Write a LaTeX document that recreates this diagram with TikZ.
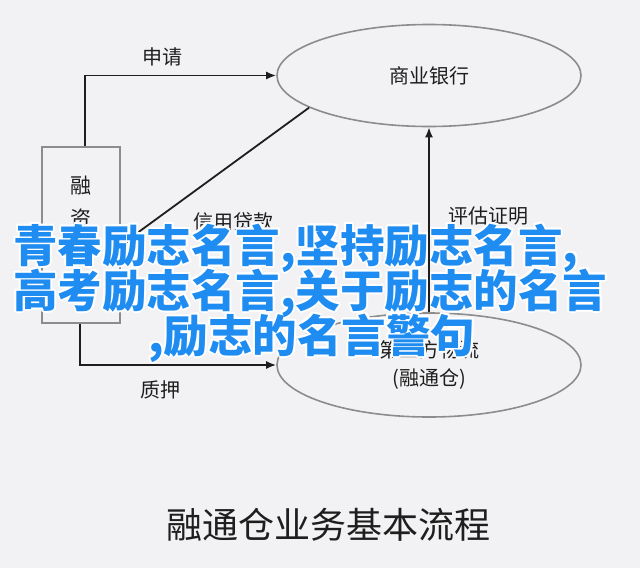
\documentclass[tikz,border=0pt]{standalone}
\usepackage{fontspec}
\usetikzlibrary{shapes.geometric,arrows.meta,calc}
\newfontfamily\cjk{Noto Sans CJK SC}
\definecolor{bg}{HTML}{F2F2F4}
\definecolor{wmblue}{RGB}{30,140,240}
\definecolor{edgegray}{HTML}{8C8C8C}
\definecolor{ink}{HTML}{1E1E1E}
\begin{document}
\begin{tikzpicture}[x=1pt,y=-1pt,
  lbl/.style={font=\cjk\fontsize{20}{24}\selectfont, text=ink, inner sep=0},
  shapeedge/.style={draw=edgegray, line width=1.6pt, inner sep=0, text=ink},
  conn/.style={draw=ink, line width=1.8pt, -{Latex[length=10pt,width=8pt]}},
  wm/.style={font=\cjk\bfseries\fontsize{44.5}{44.5}\selectfont, anchor=base west, inner sep=0}]
\fill[bg] (0,0) rectangle (640,568);
\useasboundingbox (0,0) rectangle (640,568);
% shapes
\node[shapeedge, rectangle, minimum width=78pt, minimum height=176pt] (box) at (81,235) {};
\node[lbl, align=center, font=\cjk\fontsize{21}{33}\selectfont] (boxtxt) at (box.center) {融\\资\\企\\业};
\node[shapeedge, ellipse, minimum width=304pt, minimum height=102pt, font=\cjk\fontsize{20}{24}\selectfont] (bank) at (429,75.5) {商业银行};
\node[shapeedge, ellipse, minimum width=304pt, minimum height=104pt, align=center, font=\cjk\fontsize{20}{28}\selectfont] (logi) at (429,365) {第三方物流\\(融通仓)};
% connectors
\draw[conn] ([xshift=4pt]box.north) |- (bank.west);
\draw[conn] ([xshift=-1pt]box.south) |- (logi.west);
\draw[conn] (bank.195) -- ([yshift=-10pt]box.east);
% labels
\node[lbl] (lshen) at (162,57) {申请};
\node[lbl] (lxin) at (233,222) {信用贷款};
\node[lbl] (lping) at (488,216) {评估证明};
\node[lbl] (lzhi) at (160,390) {质押};
\node[font=\cjk\fontsize{36}{40}\selectfont, text=ink, inner sep=0] (title) at (328,525) {融通仓业务基本流程};
% watermark with white halo
\foreach \dx/\dy [count=\i] in {2/0,-2/0,0/2,0/-2,1.4/1.4,1.4/-1.4,-1.4/1.4,-1.4/-1.4}{
  \node[wm, text=white] (wha\i) at ($(13,262)+(\dx,\dy)$) {青春励志名言,坚持励志名言,};
  \node[wm, text=white] (whb\i) at ($(13,307)+(\dx,\dy)$) {高考励志名言,关于励志的名言};
  \node[wm, text=white] (whc\i) at ($(148,352)+(\dx,\dy)$) {,励志的名言警句};
}
\node[wm, text=wmblue] (wma) at (13,262) {青春励志名言,坚持励志名言,};
\node[wm, text=wmblue] (wmb) at (13,307) {高考励志名言,关于励志的名言};
\node[wm, text=wmblue] (wmc) at (148,352) {,励志的名言警句};
% vertical arrow on top
\draw[conn] (logi.north) -- (bank.south);
\end{tikzpicture}
\end{document}
